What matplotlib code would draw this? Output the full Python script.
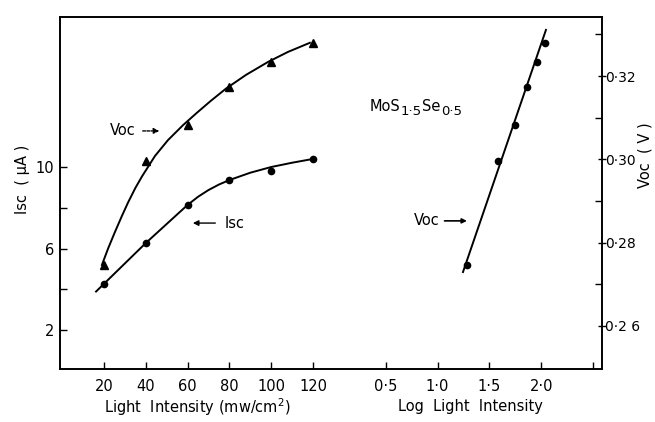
import matplotlib
matplotlib.use("Agg")
import matplotlib.pyplot as plt
from matplotlib.ticker import FixedLocator, FixedFormatter

# measured points
intensity = [20, 40, 60, 80, 100, 120]            # mW/cm2
isc = [4.26, 6.27, 8.14, 9.36, 9.80, 10.39]       # uA
voc = [0.2745, 0.2995, 0.3083, 0.3174, 0.3234, 0.3279]   # V
log_intensity = [1.28, 1.58, 1.75, 1.86, 1.96, 2.04]

# hand drawn curves through the points
isc_curve_x = [16.2, 20, 40, 60, 65, 70, 75, 80, 90, 100, 110, 118.6]
isc_curve_y = [3.89, 4.27, 6.27, 8.14, 8.54, 8.87, 9.14, 9.36, 9.72, 10.0,
               10.21, 10.37]
voc_curve_x = [19.0, 22.0, 25.3, 28.5, 31.5, 35.0, 38.2, 44.4, 50.6, 57.8,
               64.5, 71.0, 78.4, 88.0, 98.5, 108.0, 118.5]
voc_curve_y = [0.2746, 0.2786, 0.2826, 0.2863, 0.2896, 0.2931, 0.2959, 0.3008,
               0.3046, 0.3082, 0.3112, 0.3140, 0.3170, 0.3203, 0.3234, 0.3258,
               0.3280]
log_line_x = [1.245, 2.046]
log_line_y = [0.2729, 0.3311]

isc_ticks = [2, 4, 6, 8, 10]
isc_labels = ['2', '', '6', '', '10']
voc_major = [0.26, 0.28, 0.30, 0.32]
voc_labels = ['0·2 6', '0·28', '0·30', '0·32']
voc_minor = [0.27, 0.29, 0.31, 0.33]
log_ticks = [0.5, 1.0, 1.5, 2.0, 2.5]
log_labels = ['0·5', '1·0', '1·5', '2·0', '']

plt.rcParams['font.family'] = 'DejaVu Sans'
plt.rcParams['font.size'] = 10.5

W, H = 655, 422
fig = plt.figure(figsize=(W / 100, H / 100), dpi=100)
rect = [60 / W, 1 - 369 / H, 542 / W, 352 / H]

ax = fig.add_axes(rect)
ax.set_xlim(-1.05, 258.3)
ax.set_ylim(0.09, 17.36)
for s in ax.spines.values():
    s.set_linewidth(1.2)

ax.plot(isc_curve_x, isc_curve_y, color='black', lw=1.4)
ax.plot(intensity, isc, 'o', color='black', ms=4.5)

ax.yaxis.set_major_locator(FixedLocator(isc_ticks))
ax.yaxis.set_major_formatter(FixedFormatter(isc_labels))
ax.set_xticks(intensity)
ax.set_xticklabels([str(v) for v in intensity])
ax.tick_params(axis='y', direction='in', length=5, width=1, pad=4)
ax.tick_params(axis='x', direction='in', length=5, width=1, pad=7)

ax.annotate('', xy=(47.8, 11.77), xytext=(37.2, 11.77),
            arrowprops=dict(arrowstyle='-|>', color='black', lw=1,
                            linestyle=(0, (2, 1)), mutation_scale=8))
ax.text(35.3, 11.77, 'Voc', ha='right', va='center')
ax.annotate('', xy=(61.2, 7.25), xytext=(74.6, 7.25),
            arrowprops=dict(arrowstyle='-|>', color='black', lw=1,
                            mutation_scale=8))
ax.text(77.5, 7.25, 'Isc', ha='left', va='center')

# Voc against intensity, read on the right hand scale
ax_v = ax.twinx()
ax_v.set_ylim(0.2496, 0.3342)
ax_v.plot(voc_curve_x, voc_curve_y, color='black', lw=1.4)
ax_v.plot(intensity, voc, '^', color='black', ms=5.5)
ax_v.yaxis.set_major_locator(FixedLocator(voc_major))
ax_v.yaxis.set_major_formatter(FixedFormatter(voc_labels))
ax_v.yaxis.set_minor_locator(FixedLocator(voc_minor))
ax_v.tick_params(axis='y', which='major', direction='inout', length=6, width=1,
                 pad=-1, labelsize=10)
ax_v.tick_params(axis='y', which='minor', direction='in', length=5, width=1)
for s in ax_v.spines.values():
    s.set_linewidth(1.2)

# Voc against log intensity on the same frame
ax_log = fig.add_axes(rect, frameon=False)
ax_log.set_xlim(-2.645, 2.587)
ax_log.set_ylim(0.2496, 0.3342)
ax_log.plot(log_line_x, log_line_y, color='black', lw=1.4)
ax_log.plot(log_intensity, voc, 'o', color='black', ms=4.5)
ax_log.xaxis.set_major_locator(FixedLocator(log_ticks))
ax_log.xaxis.set_major_formatter(FixedFormatter(log_labels))
ax_log.tick_params(axis='x', direction='in', length=5, width=1, pad=7)
ax_log.set_yticks([])
ax_log.annotate('', xy=(1.31, 0.2852), xytext=(1.04, 0.2852),
                arrowprops=dict(arrowstyle='-|>', color='black', lw=1.2,
                                mutation_scale=7))
ax_log.text(1.02, 0.2852, 'Voc', ha='right', va='center')

# compound name, subscripts set a little below the line
ax_log.text(0.347, 0.3126, 'MoS', ha='left', va='center')
ax_log.text(0.640, 0.3116, '1·5', ha='left', va='center', fontsize=9.5)
ax_log.text(0.845, 0.3128, 'Se', ha='left', va='center')
ax_log.text(1.030, 0.3116, '0·5', ha='left', va='center', fontsize=9.5)

fig.text(197 / W, 1 - 407 / H, 'Light  Intensity (mw/cm$^2$)', ha='center', va='center')
fig.text(470 / W, 1 - 407 / H, 'Log  Light  Intensity', ha='center', va='center')
fig.text(22 / W, 1 - 179 / H, 'Isc  ( μA )', rotation=90, ha='center', va='center')
fig.text(645 / W, 1 - 155 / H, 'Voc  ( V )', rotation=90, ha='center', va='center')

fig.savefig('out.png', dpi=100)
